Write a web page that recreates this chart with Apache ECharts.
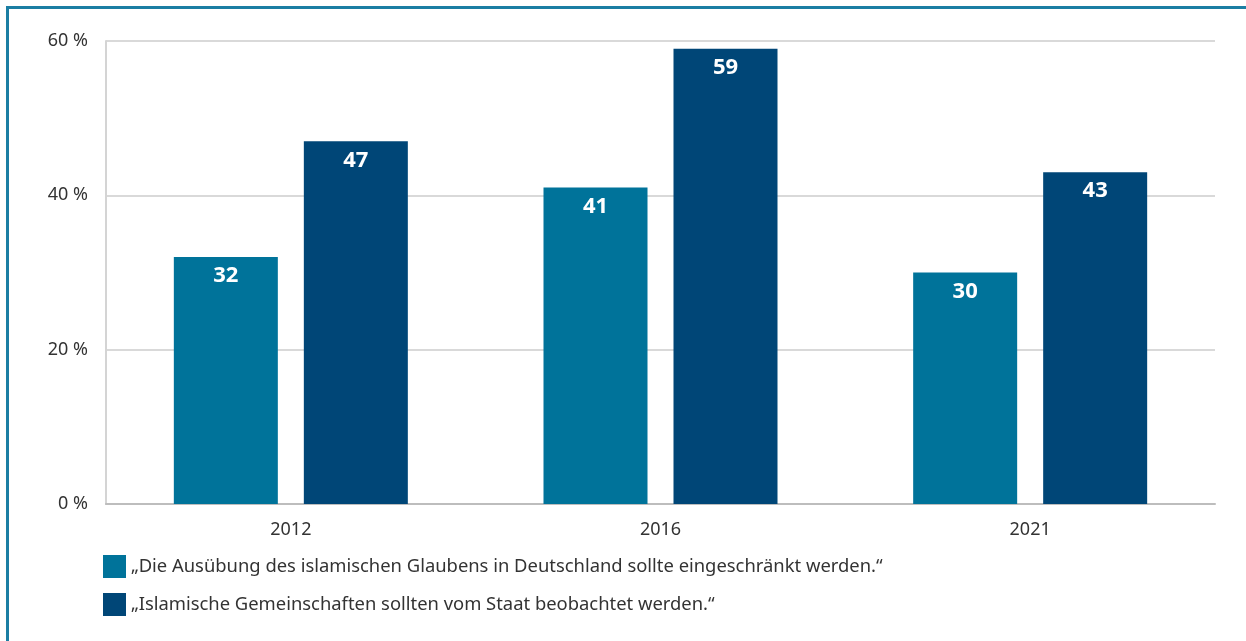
<!DOCTYPE html>
<html>
<head>
<meta charset="utf-8">
<script src="https://cdn.jsdelivr.net/npm/echarts@6/dist/echarts.min.js"></script>
<style>
  html, body { margin: 0; padding: 0; background: #fff; overflow: hidden; }
  #frame { position: absolute; left: 6px; top: 6px; width: 1300px; height: 700px; border-left: 3px solid #1b7ea3; border-top: 3px solid #1b7ea3; }
  #myChart { position: absolute; left: 0; top: 0; width: 1246px; height: 641px; }
</style>
</head>
<body>
<div id="frame"></div>
<div id="myChart"></div>
<script>
// Daten
var years = ['2012', '2016', '2021'];
var seriesNames = [
  '\u201eDie Aus\u00fcbung des islamischen Glaubens in Deutschland sollte eingeschr\u00e4nkt werden.\u201c',
  '\u201eIslamische Gemeinschaften sollten vom Staat beobachtet werden.\u201c'
];
var einschraenken = [32, 41, 30];
var beobachten = [47, 59, 43];

var myChart = echarts.init(document.getElementById('myChart'));

var labelStyle = {
  show: true,
  position: 'insideTop',
  distance: 8,
  color: '#fff',
  fontSize: 22,
  fontWeight: 'bold',
  fontFamily: 'Noto Sans'
};

myChart.setOption({
  animation: false,
  textStyle: { fontFamily: 'Noto Sans' },
  grid: { left: 106, right: 31, top: 41, bottom: 137 },
  legend: {
    orient: 'vertical',
    left: 103,
    top: 555,
    padding: 0,
    itemWidth: 23,
    itemHeight: 23,
    itemGap: 15,
    icon: 'rect',
    textStyle: { fontSize: 18.4, color: '#333' },
    data: seriesNames
  },
  xAxis: {
    type: 'category',
    data: years,
    axisTick: { show: false },
    axisLine: { lineStyle: { color: '#bdbdbd', width: 2 } },
    axisLabel: { fontSize: 18, color: '#333', margin: 17 }
  },
  yAxis: {
    type: 'value',
    min: 0,
    max: 60,
    interval: 20,
    axisTick: { show: false },
    axisLine: { show: true, lineStyle: { color: '#d4d4d4', width: 2 } },
    axisLabel: { fontSize: 18, color: '#333', margin: 18, formatter: '{value} %' },
    splitLine: { lineStyle: { color: '#d9d9d9', width: 2 } }
  },
  series: [
    {
      name: seriesNames[0],
      type: 'bar',
      barWidth: 104,
      barGap: '25%',
      itemStyle: { color: '#00739a' },
      label: labelStyle,
      data: einschraenken
    },
    {
      name: seriesNames[1],
      type: 'bar',
      barWidth: 104,
      barGap: '25%',
      itemStyle: { color: '#004677' },
      label: labelStyle,
      data: beobachten
    }
  ]
});
</script>
</body>
</html>
